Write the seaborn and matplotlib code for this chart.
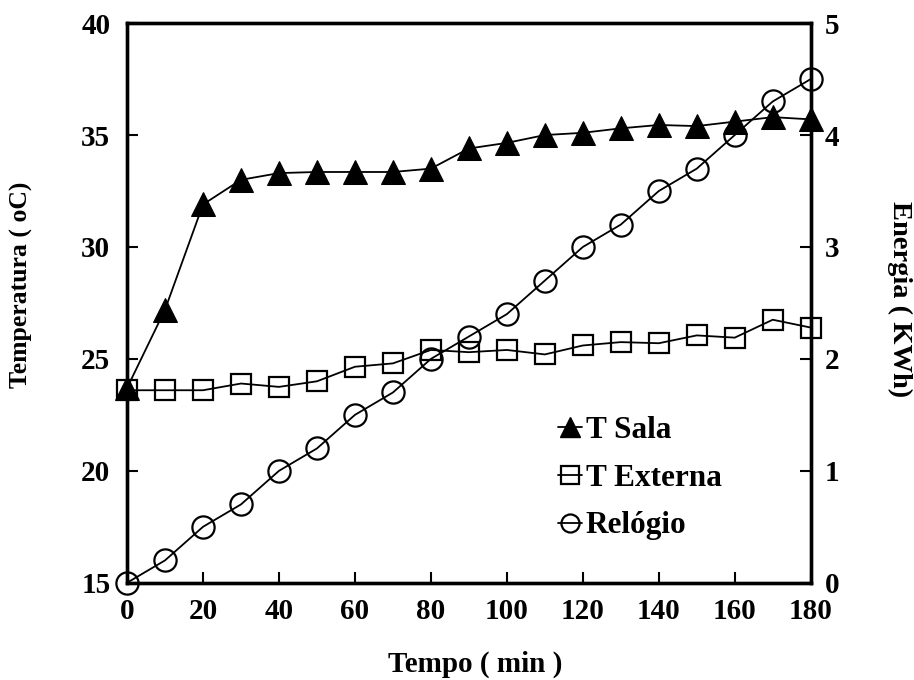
import matplotlib
matplotlib.use("Agg")
import matplotlib.pyplot as plt
import seaborn as sns
import pandas as pd
from matplotlib.lines import Line2D

# Time axis (minutes)
tempo = [0, 10, 20, 30, 40, 50, 60, 70, 80, 90, 100, 110, 120, 130, 140, 150, 160, 170, 180]

# Room temperature (oC)
t_sala = [23.7, 27.2, 31.9, 33.0, 33.3, 33.35, 33.35, 33.35, 33.5, 34.4, 34.65,
          35.0, 35.1, 35.3, 35.45, 35.4, 35.6, 35.8, 35.7]

# External temperature (oC)
t_externa = [23.6, 23.6, 23.6, 23.9, 23.75, 24.0, 24.65, 24.8, 25.4, 25.3, 25.4,
             25.2, 25.6, 25.75, 25.7, 26.05, 25.95, 26.75, 26.4]

# Accumulated energy from the meter (KWh)
relogio = [0.0, 0.2, 0.5, 0.7, 1.0, 1.2, 1.5, 1.7, 2.0, 2.2, 2.4,
           2.7, 3.0, 3.2, 3.5, 3.7, 4.0, 4.3, 4.5]

x_ticks = [0, 20, 40, 60, 80, 100, 120, 140, 160, 180]
temp_ticks = [15, 20, 25, 30, 35, 40]
energia_ticks = [0, 1, 2, 3, 4, 5]

df = pd.DataFrame({"tempo": tempo, "t_sala": t_sala,
                   "t_externa": t_externa, "relogio": relogio})

sns.set_style("white")
plt.rcParams["font.family"] = ["Liberation Serif", "DejaVu Serif"]
plt.rcParams["font.weight"] = "bold"
for key in ("text.color", "axes.labelcolor", "xtick.color", "ytick.color"):
    plt.rcParams[key] = "black"

fig = plt.figure(figsize=(9.14, 6.8), dpi=100)
ax = fig.add_axes([0.139, 0.143, 0.748, 0.823])
ax2 = ax.twinx()

lw = 1.3
sns.lineplot(data=df, x="tempo", y="t_sala", ax=ax, color="black", lw=lw,
             marker="^", markersize=17, markerfacecolor="black",
             markeredgecolor="black", zorder=3, clip_on=False)
sns.lineplot(data=df, x="tempo", y="t_externa", ax=ax, color="black", lw=lw,
             marker="s", markersize=14, markerfacecolor="none",
             markeredgecolor="black", markeredgewidth=1.6, zorder=3, clip_on=False)
sns.lineplot(data=df, x="tempo", y="relogio", ax=ax2, color="black", lw=lw,
             marker="o", markersize=16, markerfacecolor="none",
             markeredgecolor="black", markeredgewidth=1.6, zorder=3, clip_on=False)

ax.set_xlim(0, 180)
ax.set_ylim(15, 40)
ax2.set_ylim(0, 5)
ax.set_xticks(x_ticks)
ax.set_yticks(temp_ticks)
ax2.set_yticks(energia_ticks)

tick_fs = 21
ax.set_xticklabels([str(v) for v in x_ticks], fontsize=tick_fs, fontweight="bold")
ax.set_yticklabels([str(v) for v in temp_ticks], fontsize=tick_fs, fontweight="bold")
ax2.set_yticklabels([str(v) for v in energia_ticks], fontsize=tick_fs, fontweight="bold")

ax.tick_params(axis="x", direction="in", length=8, width=1.5, pad=11,
               bottom=True, top=False)
ax.tick_params(axis="y", direction="in", length=8, width=1.5, pad=12,
               left=True, right=False)
ax2.tick_params(axis="y", direction="in", length=8, width=1.5, pad=10, right=True)

for a in (ax, ax2):
    for s in a.spines.values():
        s.set_visible(True)
        s.set_color("black")
        s.set_linewidth(2.4)

ax.set_xlabel("Tempo ( min )", fontsize=21, fontweight="bold", va="center")
ax.xaxis.set_label_coords(0.509, -0.146)
ax.set_ylabel("Temperatura ( oC)", fontsize=18.5, fontweight="bold", va="center")
ax.yaxis.set_label_coords(-0.154, 0.532)
ax2.set_ylabel("Energia ( KWh)", fontsize=20.5, fontweight="bold", rotation=270,
               va="center")
ax2.yaxis.set_label_coords(1.130, 0.507)

handles = [
    Line2D([], [], color="black", lw=lw, marker="^", markersize=15,
           markerfacecolor="black"),
    Line2D([], [], color="black", lw=lw, marker="s", markersize=13,
           markerfacecolor="none", markeredgewidth=1.6),
    Line2D([], [], color="black", lw=lw, marker="o", markersize=13,
           markerfacecolor="none", markeredgewidth=1.6),
]
ax2.legend(handles, ["T Sala", "T Externa", "Relógio"], loc="upper left",
           bbox_to_anchor=(0.631, 0.298), frameon=False, borderpad=0,
           borderaxespad=0, handlelength=0.75, handletextpad=0.12,
           labelspacing=0.6, prop={"size": 22.5, "weight": "bold"})

fig.savefig("out.png", dpi=100)
